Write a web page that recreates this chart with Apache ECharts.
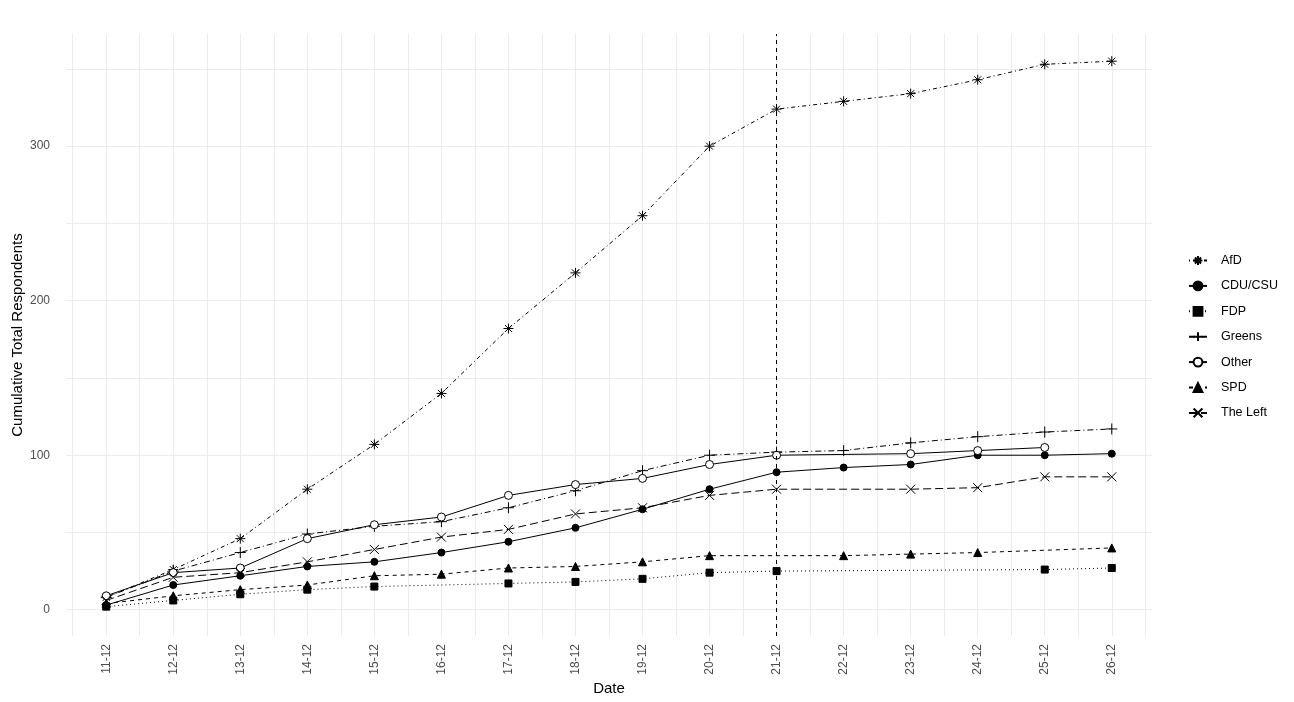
<!DOCTYPE html>
<html>
<head>
<meta charset="utf-8">
<script src="https://cdn.jsdelivr.net/npm/echarts@6/dist/echarts.min.js"></script>
<style>
  html, body { margin: 0; padding: 0; background: #fff; }
  #main { width: 1294px; height: 702px; }
</style>
</head>
<body>
<div id="main"></div>
<script>
// dates on the x axis
var dates = ['11-12','12-12','13-12','14-12','15-12','16-12','17-12','18-12',
             '19-12','20-12','21-12','22-12','23-12','24-12','25-12','26-12'];

// cumulative respondents per party (null = no point that day)
var afd    = [8, 26, 46, 78, 107, 140, 182, 218, 255, 300, 324, 329, 334, 343, 353, 355];
var cdu    = [3, 16, 22, 28, 31, 37, 44, 53, 65, 78, 89, 92, 94, 100, 100, 101];
var fdp    = [2, 6, 10, 13, 15, null, 17, 18, 20, 24, 25, null, null, null, 26, 27];
var greens = [8, 25, 37, 49, 54, 57, 66, 77, 90, 100, 102, 103, 108, 112, 115, 117];
var other  = [9, 24, 27, 46, 55, 60, 74, 81, 85, 94, 100, null, 101, 103, 105, null];
var spd    = [4, 9, 13, 16, 22, 23, 27, 28, 31, 35, null, 35, 36, 37, null, 40];
var left   = [6, 21, 24, 31, 39, 47, 52, 62, 66, 74, 78, null, 78, 79, 86, 86];

var yLabels = [0, 100, 200, 300];
var cutoffDay = '21-12';

var chart = echarts.init(document.getElementById('main'));

function pts(arr) {
  return arr.map(function (v, i) { return [i, v]; })
            .filter(function (d) { return d[1] !== null; });
}

// marker shapes like R's pch
var ASTER = 'path://M5,0L5,10M0,5L10,5M1.5,1.5L8.5,8.5M8.5,1.5L1.5,8.5';
var PLUS  = 'path://M5,0L5,10M0,5L10,5';
var CROSS = 'path://M0,0L10,10M10,0L0,10';
var RING  = 'path://M10,5A5,5 0 1 1 0,5A5,5 0 1 1 10,5Z';

function mk(name, arr, symbol, size, dash) {
  return {
    name: name,
    type: 'line',
    data: pts(arr),
    symbol: symbol,
    symbolSize: size,
    showAllSymbol: true,
    itemStyle: { color: '#000', borderColor: '#000', borderWidth: 1 },
    lineStyle: { color: '#000', width: 1, type: dash },
    emphasis: { disabled: true },
    animation: false
  };
}

var series = [
  mk('AfD', afd, ASTER, 10, [1, 3, 4, 3]),
  mk('CDU/CSU', cdu, 'circle', 7, 'solid'),
  mk('FDP', fdp, 'rect', 7, [1, 3]),
  mk('Greens', greens, PLUS, 11, [6, 3, 1, 3]),
  mk('Other', other, RING, 8, 'solid'),
  mk('SPD', spd, 'triangle', 8, [4, 4]),
  mk('The Left', left, CROSS, 9, [8, 4])
];
series[4].itemStyle = { color: '#fff', borderColor: '#000', borderWidth: 1 };

// vertical dashed line at the cut-off day
series[0].markLine = {
  silent: true,
  symbol: 'none',
  label: { show: false },
  lineStyle: { color: '#000', width: 1, type: [4, 4] },
  data: [{ xAxis: dates.indexOf(cutoffDay) }]
};

var halfSteps = [];
for (var k = -1; k < dates.length * 2; k++) halfSteps.push(k / 2);
var ySteps = [0, 50, 100, 150, 200, 250, 300, 350];

chart.setOption({
  backgroundColor: '#fff',
  textStyle: { fontFamily: 'Liberation Sans, Arial, sans-serif' },
  grid: { left: 66, right: 142, top: 34, bottom: 66, outerBoundsMode: 'none', containLabel: false },
  xAxis: {
    type: 'value',
    min: -0.6,
    max: 15.6,
    name: 'Date',
    nameLocation: 'middle',
    nameGap: 45,
    nameMoveOverlap: false,
    nameTextStyle: { fontSize: 15, color: '#000' },
    axisLine: { show: false },
    axisTick: { show: false, customValues: halfSteps },
    axisLabel: {
      customValues: dates.map(function (d, i) { return i; }),
      formatter: function (v) { return dates[Math.round(v)]; },
      rotate: 90,
      margin: 8,
      fontSize: 12,
      color: '#4D4D4D'
    },
    splitLine: { show: true, lineStyle: { color: '#EBEBEB', width: 1 } }
  },
  yAxis: {
    type: 'value',
    min: -17,
    max: 372.6,
    name: 'Cumulative Total Respondents',
    nameLocation: 'middle',
    nameGap: 41,
    nameMoveOverlap: false,
    nameTextStyle: { fontSize: 15, color: '#000' },
    axisLine: { show: false },
    axisTick: { show: false, customValues: ySteps },
    axisLabel: { customValues: yLabels, margin: 16, fontSize: 12, color: '#4D4D4D' },
    splitLine: { show: true, lineStyle: { color: '#EBEBEB', width: 1 } }
  },
  legend: {
    orient: 'vertical',
    left: 1188,
    top: 254,
    padding: 0,
    itemWidth: 18,
    itemHeight: 11,
    itemGap: 12.4,
    textStyle: { fontSize: 12.5, color: '#000', padding: [0, 0, 0, 9] },
    data: series.map(function (s) { return s.name; })
  },
  series: series
});
</script>
</body>
</html>
